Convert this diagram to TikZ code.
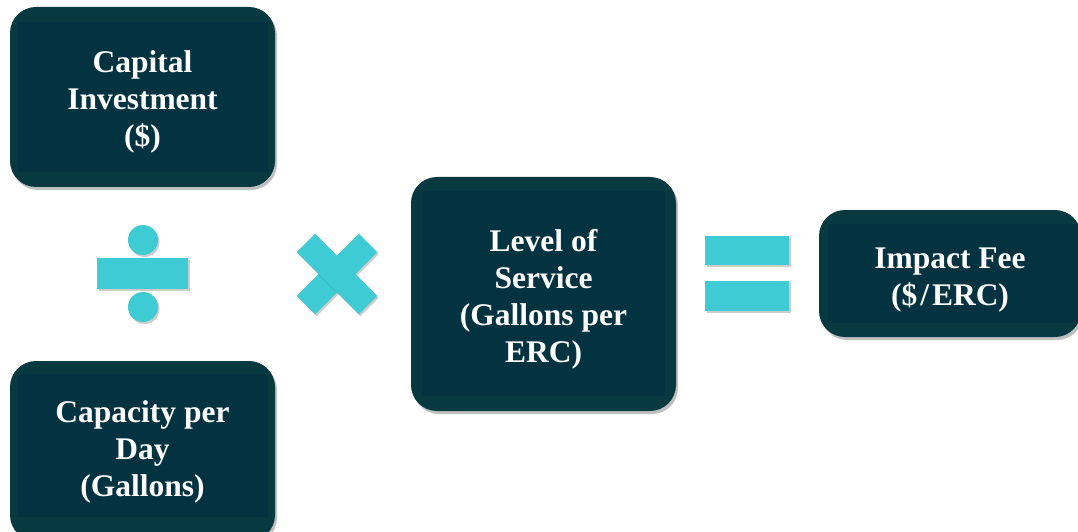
\documentclass[tikz,border=0pt]{standalone}
\usepackage{fontspec}
\setmainfont{Liberation Serif}
\usetikzlibrary{shadows}
\definecolor{boxout}{HTML}{063A40}
\definecolor{boxin}{HTML}{033341}
\definecolor{teal}{HTML}{3ECBD4}
\tikzset{
  card/.style={rectangle, rounded corners=26pt, fill=boxout, draw=none,
    drop shadow={shadow xshift=2pt, shadow yshift=-3pt, opacity=0.25, fill=black},
    inner sep=0pt},
  label/.style={text=white, font=\bfseries\fontsize{31.5}{37}\selectfont, align=center},
  sym/.style={fill=teal, draw=none,
    drop shadow={shadow xshift=1.5pt, shadow yshift=-2pt, opacity=0.2, fill=black}},
}
\begin{document}
\begin{tikzpicture}[x=1pt,y=1pt]
\useasboundingbox (0,0) rectangle (1078,531);
\clip (0,0) rectangle (1078,531);
% boxes (y = 531 - pixel y)
\node[card, minimum width=265pt, minimum height=180pt] (cap) at (142.5,434) {};
\fill[boxin] (18,359) rectangle (268,509);
\node[label] (capt) at (142.5,429) {Capital\\Investment\\(\$)};

\node[card, minimum width=265pt, minimum height=180pt] (capd) at (142.5,80) {};
\fill[boxin] (18,14) rectangle (268,157);
\node[label] (capdt) at (142.5,79) {Capacity per\\Day\\(Gallons)};

\node[card, minimum width=265pt, minimum height=234pt] (los) at (543.5,237) {};
\fill[boxin] (422,135) rectangle (665,340);
\node[label] (lost) at (543.5,232) {Level of\\Service\\(Gallons per\\ERC)};

\node[card, minimum width=262pt, minimum height=127pt] (fee) at (950,257.5) {};
\fill[boxin] (828,208) rectangle (1078,307);
\node[label] (feet) at (950,251) {Impact Fee\\(\$\kern3pt/\kern3pt ERC)};

% divide sign
\fill[sym] (143,291) circle (15);
\fill[sym] (97,242) rectangle (188,273);
\fill[sym] (143,224) circle (15);
% times sign
\begin{scope}[shift={(337,257)}, rotate=45]
\fill[sym] (-44,-13) rectangle (44,13);
\fill[sym] (-13,-44) rectangle (13,44);
\end{scope}
% equals sign
\fill[sym] (705,266) rectangle (789,295);
\fill[sym] (705,220) rectangle (789,250);
\end{tikzpicture}
\end{document}
